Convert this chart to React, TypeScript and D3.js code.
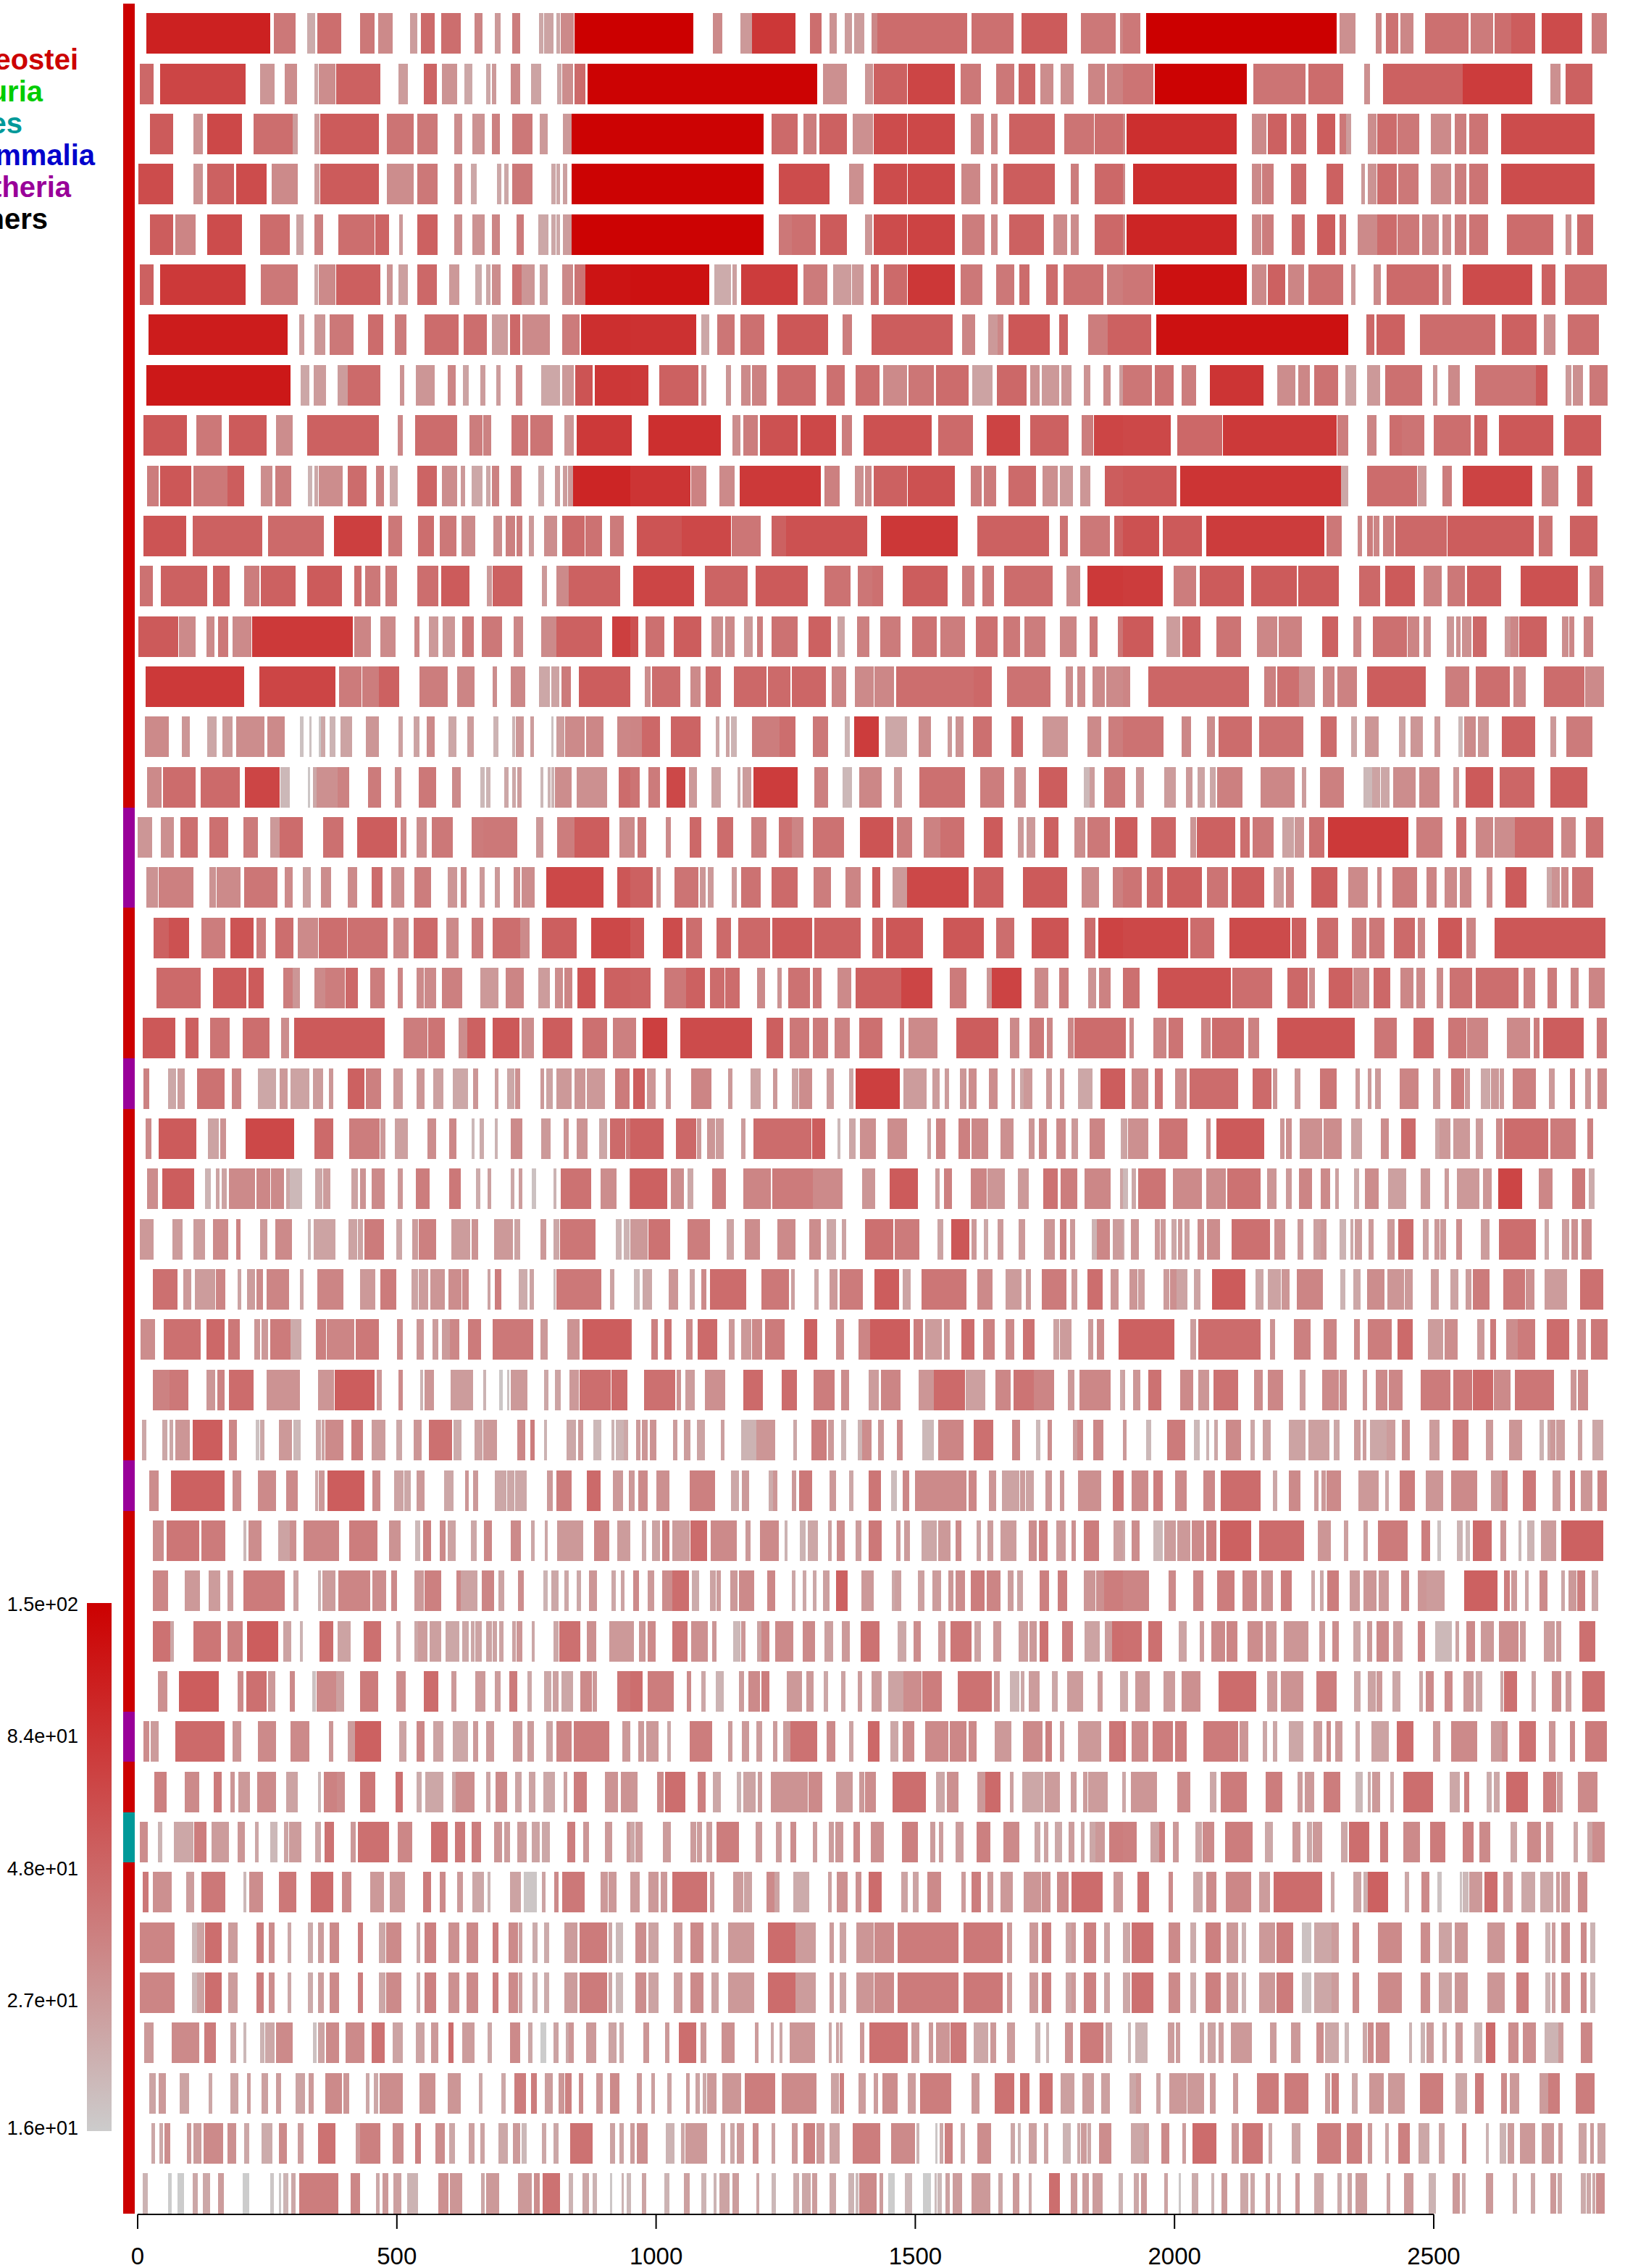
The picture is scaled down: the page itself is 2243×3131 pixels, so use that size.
import React from "react";
import * as d3 from "d3";

// Each row: three position bands, flat triples of start, end, value (start/end in band readings).
const r00 = [[28,422,105,434,503,40,540,565,23,572,648,45,708,754,40,766,812,33,867,890,27,902,945,47,966,1028,45,1072,1098,35,1137,1155,28,1192,1218,38,1277,1291,24,1294,1324,25,1333,1345,24,1347,1388,33,1390,1568,150],
[0,201,150,263,293,33,350,387,28,387,526,82,572,609,45,634,657,30,683,706,27,713,745,27,768,786,34,786,1072,46,1086,1220,44,1245,1390,55,1434,1545,40,1559,1568,35],
[0,55,40,74,680,150,689,740,31,805,823,34,837,876,43,883,925,34,962,1100,44,1107,1178,39,1183,1236,45,1236,1312,54,1333,1462,66,1492,1540,38]];
const r01 = [[7,51,48,71,344,70,390,436,29,468,507,32,563,574,24,576,630,32,632,772,52,830,860,27,911,952,50,968,1017,30,1040,1065,24,1109,1123,24,1128,1141,28,1188,1218,33,1252,1284,25,1335,1349,24,1351,1385,32,1390,1425,47,1432,1568,145],
[0,595,145,613,689,31,747,772,29,775,881,52,883,1033,70,1051,1116,40,1164,1222,40,1236,1289,50,1305,1347,32,1370,1411,31,1457,1510,35,1517,1568,36],
[0,97,42,101,394,145,415,581,42,590,701,46,768,786,31,828,1081,52,1081,1303,78,1360,1393,31,1409,1494,52]];
const r02 = [[39,113,55,178,208,30,221,332,68,369,493,45,493,510,27,563,579,27,581,768,55,793,879,42,890,955,40,1008,1033,32,1065,1105,30,1128,1153,37,1192,1257,40,1280,1305,28,1354,1381,28,1381,1568,145],
[0,424,145,450,533,47,551,593,38,602,689,52,708,772,31,775,881,65,883,1033,68,1084,1125,35,1148,1169,34,1206,1351,52,1381,1476,42,1478,1568,45],
[0,7,34,12,362,90,410,457,33,461,521,52,535,583,47,618,676,54,689,710,40,710,726,27,779,807,32,809,872,46,874,943,40,980,1045,33,1056,1093,38,1102,1162,42,1204,1501,65]];
const r03 = [[2,113,65,178,208,30,221,307,52,314,410,65,427,510,33,563,579,27,581,768,55,793,879,32,890,955,40,1008,1033,32,1061,1079,24,1144,1158,24,1167,1181,24,1192,1257,40,1317,1331,24,1333,1345,24,1354,1367,26,1381,1568,145],
[0,424,145,473,634,65,696,742,31,775,881,65,883,1033,68,1054,1114,34,1148,1169,34,1188,1351,54,1402,1427,38,1478,1568,48],
[0,7,34,32,362,90,410,440,33,443,480,38,535,583,47,648,701,52,759,770,28,779,807,30,809,872,46,876,941,40,980,1045,33,1056,1093,38,1102,1162,42,1204,1501,65]];
const r04 = [[39,113,54,120,184,35,221,332,65,390,484,46,505,528,25,563,590,37,639,754,45,756,800,50,832,844,28,890,955,52,1008,1033,32,1065,1105,30,1128,1153,35,1206,1229,39,1275,1307,24,1317,1331,24,1333,1345,24,1354,1381,27,1381,1568,145],
[0,424,145,473,514,40,514,590,44,604,689,55,747,770,29,775,881,65,883,1033,72,1056,1128,38,1148,1169,34,1206,1317,52,1347,1390,33,1402,1427,32,1478,1568,48],
[0,7,34,12,362,100,410,440,33,443,480,38,537,579,47,618,676,54,689,710,45,747,809,33,809,872,46,874,943,40,952,1005,34,1017,1045,33,1056,1093,38,1102,1162,42,1222,1370,46,1409,1427,32,1446,1497,47]];
const r05 = [[7,51,52,71,344,80,392,510,40,563,574,24,576,630,33,632,772,53,793,812,30,830,860,26,890,952,48,992,1024,28,1075,1095,23,1109,1123,24,1128,1155,32,1192,1222,43,1222,1264,29,1280,1305,27,1351,1385,33,1390,1425,42,1425,1568,120],
[0,251,125,267,321,23,325,339,26,353,533,78,551,627,39,646,703,27,706,742,28,766,791,43,807,881,47,883,1033,82,1051,1121,40,1164,1222,40,1238,1271,46,1324,1360,46,1379,1506,44,1517,1568,38],
[0,97,41,101,394,125,410,457,33,461,517,52,526,576,35,590,701,44,726,740,28,798,821,33,839,1005,47,1017,1045,34,1081,1303,66,1333,1377,52,1407,1540,47]];
const r06 = [[35,477,110,514,530,28,563,597,29,611,687,40,733,782,46,819,855,39,913,1022,46,1038,1111,45,1128,1178,27,1185,1218,48,1224,1312,33,1351,1407,39,1411,1568,90],
[0,210,88,226,251,24,277,332,41,350,427,44,468,630,58,676,706,38,768,1026,54,1056,1098,35,1139,1169,28,1169,1188,34,1204,1335,58,1365,1393,52,1457,1520,38,1520,1568,52],
[0,90,52,106,717,125,775,800,48,807,897,52,945,1185,46,1206,1317,52,1340,1377,32,1416,1515,45]];
const r07 = [[28,487,115,519,546,24,560,600,27,636,669,27,669,772,47,835,849,30,885,945,29,987,1012,35,1035,1054,25,1091,1107,27,1141,1155,27,1204,1224,34,1284,1344,24,1351,1388,28,1393,1448,60,1455,1568,82],
[0,58,80,92,217,52,226,242,29,304,321,29,353,383,33,387,434,36,468,590,47,625,683,44,717,793,45,805,881,33,885,966,41,973,1077,46,1088,1153,25,1167,1261,48,1273,1303,30,1310,1365,28,1372,1404,29,1443,1464,30,1506,1529,33,1556,1568,27],
[0,92,41,101,161,43,187,233,38,277,447,85,491,549,32,558,595,34,609,685,43,708,742,25,777,819,28,835,952,44,987,1001,29,1035,1072,33,1121,1314,42,1314,1351,58,1409,1427,28,1432,1464,31,1485,1543,40]];
const r08 = [[18,157,58,187,267,40,291,410,55,440,493,32,540,768,52,828,844,34,883,1017,46,1056,1098,38,1100,1125,36,1190,1243,42,1250,1321,42,1358,1388,29,1397,1568,80],
[0,5,85,58,288,90,325,350,32,360,406,38,413,533,62,542,655,68,673,706,38,742,959,62,980,1091,47,1134,1241,72,1273,1395,52,1437,1473,38,1476,1568,70],
[0,152,68,173,316,48,318,680,80,683,717,38,777,807,35,849,888,45,888,959,42,989,1107,45,1118,1160,52,1197,1370,57,1404,1522,56]];
const r09 = [[30,67,38,71,171,58,178,286,40,286,339,54,392,429,32,438,489,38,542,556,21,563,574,24,576,653,32,669,729,46,759,784,37,802,828,24,890,952,50,968,1017,32,1028,1042,28,1063,1098,24,1109,1123,24,1128,1151,36,1188,1222,38,1275,1294,24,1328,1344,27,1354,1367,27,1370,1386,28,1386,1568,100],
[0,191,85,194,242,36,284,332,33,348,606,80,618,666,37,715,742,31,747,768,33,775,881,52,883,1033,62,1084,1118,38,1125,1164,39,1204,1291,47,1312,1360,31,1367,1409,28,1432,1464,29,1510,1568,54],
[0,171,57,182,694,85,694,717,24,777,936,46,938,966,28,1017,1047,38,1081,1303,72,1333,1386,36,1446,1494,52]];
const r10 = [[18,154,60,175,397,52,415,593,47,625,777,75,798,842,40,892,943,45,962,1015,40,1031,1075,33,1132,1160,32,1171,1201,37,1206,1224,38,1245,1261,28,1294,1335,32,1351,1423,47,1425,1478,43,1503,1547,39],
[21,164,60,164,321,68,323,415,41,450,496,52,496,754,62,798,1042,82,1105,1333,52,1367,1393,43,1432,1526,40,1540,1568,52],
[0,115,62,127,251,56,265,641,78,648,696,40,747,761,33,777,796,38,798,816,35,828,862,38,867,1031,48,1033,1307,54,1324,1367,43,1423,1510,52]];
const r11 = [[7,48,43,74,221,52,240,293,52,339,387,38,392,503,52,540,650,55,689,713,45,724,772,40,789,826,39,890,957,45,966,1056,55,1111,1128,28,1130,1224,52,1287,1303,28,1333,1372,33,1372,1536,52],
[9,203,70,238,374,50,399,565,56,618,701,43,724,770,41,770,805,44,867,1010,54,1056,1095,38,1121,1158,40,1190,1344,46,1388,1432,32,1455,1568,80],
[0,127,78,161,233,38,244,385,55,408,553,55,558,687,56,752,819,48,835,929,56,957,1015,36,1033,1088,40,1095,1204,54,1266,1448,62,1485,1529,41]];
const r12 = [[2,129,56,131,184,33,219,244,33,256,288,40,302,362,33,364,685,80,689,742,35,772,821,33,881,897,34,927,957,28,971,1010,29,1033,1070,40,1095,1160,40,1197,1227,34,1284,1333,33,1333,1478,52,1510,1568,75],
[0,25,62,48,108,44,138,226,54,258,295,32,302,332,33,362,390,28,404,422,38,450,533,43,567,639,52,659,683,25,722,761,37,796,860,39,897,975,43,987,1065,38,1100,1169,44,1188,1241,40,1254,1321,38,1367,1420,35,1462,1487,40,1552,1568,42],
[0,97,56,138,182,27,189,247,52,297,376,42,427,491,34,496,570,36,634,685,52,733,759,34,796,904,44,906,943,35,957,980,32,1031,1054,29,1061,1075,31,1079,1109,31,1114,1158,48,1215,1234,29,1234,1259,34,1261,1349,52,1397,1418,32,1420,1437,34,1467,1497,35]];
const r13 = [[25,339,80,387,630,70,641,713,39,715,768,38,768,832,52,897,987,38,1017,1072,35,1130,1144,32,1188,1234,34,1277,1312,24,1317,1342,25,1349,1379,39,1404,1568,54],
[46,65,32,69,159,46,191,224,33,240,288,46,330,434,48,438,510,47,514,623,49,641,687,35,715,775,33,777,839,34,846,1093,45,1093,1151,48,1199,1337,43,1386,1409,32,1423,1448,33,1471,1510,33,1515,1568,33],
[0,23,35,81,401,49,450,487,37,491,560,44,560,611,31,636,673,35,683,745,36,777,964,54,1026,1102,38,1123,1231,45,1243,1282,34,1340,1469,46,1471,1531,33]];
const r14 = [[23,99,33,141,166,29,221,251,24,270,302,27,314,404,32,413,468,33,517,528,18,546,553,18,576,583,17,583,597,24,611,630,21,646,683,25,726,768,29,830,844,26,879,897,25,920,945,33,989,1015,24,1049,1070,27,1132,1148,21,1192,1201,21,1204,1229,29,1250,1261,27,1317,1324,18,1333,1358,27,1360,1423,33,1427,1483,34,1526,1568,34],
[0,37,35,37,95,48,129,224,50,272,284,24,304,316,25,321,339,21,387,475,38,475,526,45,581,630,40,683,699,21,713,791,78,812,881,24,918,957,32,1010,1024,28,1035,1061,30,1091,1151,44,1213,1250,48,1312,1393,29,1455,1499,33,1522,1568,38],
[0,129,43,187,217,34,267,293,32,304,410,46,434,574,44,630,680,46,726,745,24,770,814,29,879,899,25,915,955,29,992,1010,28,1068,1081,20,1086,1123,33,1130,1164,29,1206,1312,52,1360,1379,28,1411,1494,39]];
const r15 = [[30,76,33,81,184,46,201,325,47,341,452,70,454,484,20,542,549,17,558,570,24,570,636,31,636,673,36,733,775,39,819,839,32,895,950,40,1001,1028,33,1091,1105,20,1109,1123,21,1167,1181,24,1192,1204,24,1208,1222,27,1282,1291,20,1305,1315,21,1317,1326,21,1328,1381,32,1397,1494,31,1531,1568,46],
[0,30,42,58,95,39,115,175,68,187,212,28,258,288,25,341,350,24,357,385,27,392,533,78,586,630,37,676,706,20,729,800,34,839,865,27,920,1065,44,1114,1190,38,1222,1259,32,1301,1390,54,1443,1462,20,1462,1478,27,1508,1568,40],
[0,7,40,42,67,29,131,168,27,201,221,28,238,261,25,277,295,24,300,380,37,438,546,34,570,583,27,627,703,37,766,793,20,793,819,25,821,849,24,860,932,32,943,1008,34,1051,1070,29,1091,1178,56,1199,1310,49,1360,1478,54]];
const r16 = [[0,46,29,74,115,31,136,191,44,228,288,44,337,383,39,422,452,28,452,526,46,590,655,44,699,826,54,837,855,35,888,920,32,936,1003,40,1063,1100,39,1100,1208,40,1268,1291,28,1335,1390,38,1390,1501,54,1533,1568,33],
[0,14,33,23,51,40,113,129,33,189,226,48,277,327,46,385,434,37,473,514,43,514,551,35,581,680,43,731,837,60,849,897,38,934,987,36,987,1063,44,1125,1185,55,1234,1252,28,1261,1289,28,1317,1363,52,1414,1448,32,1455,1526,40,1543,1568,54],
[0,46,54,90,168,49,214,233,29,235,357,52,374,404,45,413,480,40,507,544,25,546,576,29,593,641,44,653,909,80,934,1017,38,1061,1093,46,1123,1178,34,1183,1247,32,1247,1370,47,1395,1441,34,1473,1529,43]];
const r17 = [[28,65,30,67,178,37,228,249,30,251,327,33,339,445,41,468,493,33,526,551,26,583,616,32,669,699,33,745,779,46,807,849,32,881,934,38,987,1017,29,1028,1047,33,1088,1105,28,1137,1153,28,1197,1218,33,1222,1264,32,1301,1483,68,1526,1568,58],
[0,71,52,83,97,29,141,217,42,221,240,29,247,265,28,323,339,28,353,415,43,450,533,47,583,639,38,685,733,35,770,796,54,835,881,28,881,1077,68,1093,1188,53,1250,1390,56,1437,1492,33,1536,1568,37],
[0,60,42,76,127,46,141,251,53,267,334,42,346,450,54,480,512,27,519,544,34,600,683,54,717,779,33,809,823,33,858,936,39,966,998,35,1024,1063,33,1072,1109,34,1158,1176,33,1218,1284,55,1349,1365,24,1365,1390,30,1395,1418,34,1430,1497,43]];
const r18 = [[51,99,52,99,164,62,203,279,38,295,369,60,378,408,38,438,496,45,510,574,33,576,666,45,669,796,44,814,862,34,879,955,47,982,1022,33,1063,1100,39,1130,1218,45,1218,1247,33,1287,1397,53,1443,1568,68],
[0,44,58,104,166,65,178,228,45,274,321,47,344,445,48,452,579,56,586,733,52,770,805,50,814,932,58,996,1125,58,1164,1222,45,1277,1395,60,1446,1480,46,1490,1568,72],
[0,208,68,214,291,46,339,533,66,537,583,53,618,685,46,729,775,38,784,832,40,862,929,47,938,962,35,1003,1079,57,1093,1123,35,1183,1536,58]];
const r19 = [[60,201,47,240,346,55,353,401,55,463,493,38,493,517,29,563,597,33,597,659,38,662,701,48,740,786,38,828,844,35,888,911,33,913,950,33,968,1033,37,1091,1148,28,1171,1229,35,1275,1312,27,1328,1354,32,1358,1384,35,1400,1457,60,1485,1568,52],
[0,65,50,108,178,40,178,238,52,254,300,46,302,348,46,404,429,33,468,482,30,503,572,43,581,609,40,659,703,33,717,862,52,862,962,70,1017,1070,39,1134,1151,29,1151,1245,72,1287,1330,33,1365,1395,38,1457,1483,30,1492,1529,36],
[0,53,44,111,344,62,348,475,45,523,588,48,593,611,32,655,731,52,733,784,33,798,851,48,883,925,34,934,962,33,998,1019,33,1040,1111,43,1123,1259,45,1275,1312,37,1351,1381,39,1425,1450,34,1483,1533,35]];
const r20 = [[16,120,57,152,194,52,231,293,42,334,420,45,457,482,32,498,786,56,846,922,38,925,978,42,1022,1049,32,1049,1107,52,1130,1215,57,1222,1261,32,1289,1384,54,1416,1494,44,1513,1568,37],
[0,18,37,39,118,75,159,387,66,434,487,53,507,570,40,581,630,39,650,699,36,729,802,44,858,872,34,885,978,33,1038,1171,54,1208,1238,33,1271,1317,40,1326,1344,34,1393,1411,34,1414,1568,46],
[0,9,46,21,35,33,97,138,35,145,191,42,249,279,35,284,385,46,399,434,36,491,738,60,800,872,41,925,989,47,1035,1093,41,1095,1162,35,1222,1296,33,1307,1326,38,1337,1467,54,1508,1540,40]];
const r21 = [[18,37,36,97,122,24,127,150,27,189,277,43,300,330,35,383,440,24,452,477,28,487,546,25,558,590,27,609,623,29,669,722,52,726,775,37,814,844,28,888,913,29,941,973,26,1003,1051,24,1068,1084,29,1137,1148,26,1176,1199,24,1201,1218,31,1282,1294,28,1301,1321,25,1333,1381,28,1390,1425,29,1430,1487,28,1520,1566,39],
[9,46,54,53,81,29,113,129,29,194,258,35,311,325,28,383,415,25,454,468,28,514,535,25,537,579,32,625,648,28,696,710,24,717,858,75,869,943,27,962,985,27,1001,1015,27,1049,1070,29,1077,1102,32,1141,1169,32,1213,1224,28,1241,1252,24,1252,1280,28,1324,1342,28,1367,1381,29,1425,1471,24,1497,1568,54],
[0,7,55,28,81,34,101,127,43,166,203,33,212,367,46,413,473,47,477,491,29,546,565,29,627,680,41,740,754,28,779,791,28,802,821,28,881,941,35,987,1010,28,1045,1086,39,1088,1105,28,1139,1169,24,1171,1197,28,1199,1213,28,1241,1314,37,1356,1374,28,1423,1439,37,1471,1490,29,1510,1540,34]];
const r22 = [[25,44,33,67,187,55,224,258,25,263,281,30,344,498,68,563,623,47,673,770,38,772,789,28,819,860,26,922,950,32,992,1015,34,1063,1072,20,1088,1102,23,1137,1146,21,1188,1224,33,1284,1314,28,1356,1372,30,1397,1432,30,1469,1494,24,1503,1552,47,1554,1568,40],
[0,106,52,145,210,48,212,226,28,244,270,29,272,297,27,353,367,27,392,576,46,579,620,54,659,669,20,696,717,24,731,782,31,819,881,32,945,957,25,973,1003,35,1045,1081,37,1086,1139,34,1178,1220,31,1268,1287,29,1301,1326,34,1356,1386,33,1404,1425,28,1462,1510,35,1561,1568,24],
[0,14,25,16,81,31,115,205,42,265,279,34,297,450,56,500,514,29,519,537,31,563,634,31,639,696,32,726,761,25,821,846,32,885,932,47,994,1008,24,1008,1042,28,1051,1105,28,1123,1146,27,1188,1208,33,1213,1354,46,1360,1441,39,1478,1497,37]];
const r23 = [[30,65,32,78,180,54,214,233,21,249,261,25,267,284,25,291,374,33,378,422,34,424,466,33,473,484,24,484,523,20,565,588,24,590,613,27,680,701,25,708,726,30,745,786,33,828,844,29,885,929,38,992,1028,40,1077,1091,23,1114,1125,26,1188,1199,24,1213,1224,27,1254,1268,18,1324,1333,21,1347,1443,43,1473,1524,32,1566,1568,33],
[0,118,52,129,171,32,182,201,24,261,304,38,360,447,35,452,581,39,581,676,33,738,779,29,826,915,55,971,985,27,998,1024,37,1084,1134,35,1137,1192,29,1234,1268,28,1314,1360,43,1370,1423,38,1446,1529,34,1559,1568,25],
[0,16,20,28,42,24,48,136,42,159,251,33,265,327,32,332,438,43,459,489,29,519,537,28,560,602,35,630,659,33,676,687,26,736,752,23,770,814,32,844,902,26,948,978,28,1024,1038,27,1063,1134,28,1146,1174,29,1194,1271,70,1324,1367,34,1430,1471,40,1483,1501,23]];
const r24 = [[7,51,28,111,143,27,178,214,27,240,288,33,314,327,36,390,413,28,438,491,33,542,551,20,560,630,25,671,699,25,701,717,25,722,784,39,823,842,24,874,892,27,895,950,37,998,1058,27,1063,1084,30,1134,1194,28,1199,1218,25,1282,1301,28,1324,1342,24,1344,1457,41,1522,1540,21,1547,1566,21],
[0,55,28,58,127,43,182,254,38,307,330,25,364,413,32,468,526,33,570,606,32,625,655,24,673,687,25,747,837,44,842,920,39,978,996,25,1022,1079,58,1086,1102,28,1125,1139,24,1169,1188,28,1236,1257,28,1317,1351,29,1367,1388,37,1400,1416,28,1469,1485,21,1485,1526,34,1536,1568,27],
[0,5,23,25,51,29,101,118,28,120,136,28,154,171,24,175,189,28,196,212,26,238,258,32,267,309,32,346,468,44,482,517,31,556,574,28,606,630,26,630,648,29,689,710,21,724,733,24,738,761,27,782,798,28,842,865,28,876,925,46,955,973,26,992,1008,28,1010,1028,28,1061,1079,32,1139,1167,27,1197,1314,45,1342,1356,24,1397,1420,27,1427,1448,31,1460,1492,33]];
const r25 = [[48,127,44,145,171,28,182,247,27,249,279,35,318,330,25,348,374,27,378,399,33,410,482,35,517,528,25,572,655,35,708,756,28,772,823,39,872,892,25,895,925,27,932,978,29,989,1031,32,1033,1054,33,1114,1123,25,1137,1158,38,1213,1241,23,1247,1261,25,1324,1331,19,1333,1476,40,1503,1517,25],
[12,30,20,39,69,24,122,152,29,189,205,25,226,242,33,254,369,46,417,505,40,512,523,26,586,600,24,634,659,28,666,740,39,777,855,54,867,892,25,927,1070,41,1105,1153,33,1194,1245,27,1259,1275,28,1310,1388,39,1404,1423,28,1455,1503,45,1529,1554,29],
[21,46,29,48,69,27,129,148,27,150,171,31,171,205,25,226,247,25,284,390,55,422,447,24,461,503,25,505,530,29,553,636,35,692,708,21,733,756,24,777,832,32,842,895,29,897,922,28,980,1005,27,1042,1068,25,1091,1109,27,1114,1167,39,1211,1280,40,1282,1310,31,1342,1414,27,1455,1529,44]];
const r26 = [[9,55,32,83,201,44,219,277,48,288,325,40,371,390,29,394,415,28,422,487,39,487,521,23,567,600,37,602,689,35,694,768,40,826,844,33,888,911,29,938,957,27,968,994,27,994,1024,34,1051,1093,39,1130,1259,40,1282,1305,28,1367,1407,30,1416,1568,54],
[0,5,48,67,88,37,108,131,42,178,198,33,214,277,47,314,332,28,353,385,28,387,420,33,429,491,39,553,595,52,655,680,33,726,763,35,763,890,54,902,932,38,938,992,27,998,1017,29,1054,1095,46,1123,1160,36,1194,1222,33,1250,1287,43,1347,1365,25,1367,1404,27,1457,1473,28,1485,1508,33,1554,1568,52],
[0,164,52,214,233,27,240,438,46,468,484,30,544,597,37,639,680,35,736,754,33,779,855,38,874,922,47,971,1019,27,1024,1065,32,1128,1151,28,1169,1188,39,1220,1257,32,1257,1312,39,1349,1420,46,1446,1473,33,1490,1543,40]];
const r27 = [[48,101,36,101,161,40,219,247,29,254,277,36,291,369,46,410,517,30,574,625,29,627,754,54,761,777,29,830,844,33,899,909,21,913,943,29,996,1068,27,1100,1109,21,1151,1162,17,1176,1183,18,1188,1241,28,1294,1307,24,1328,1347,25,1374,1404,28,1407,1506,45,1508,1559,47],
[44,143,44,148,161,30,175,205,27,238,302,31,360,422,47,482,530,46,583,650,38,671,696,32,759,791,27,798,860,35,918,966,29,966,1065,47,1068,1130,26,1162,1211,34,1220,1284,42,1284,1349,35,1393,1414,28,1430,1529,34,1559,1568,24],
[0,7,26,32,55,29,81,122,43,182,224,33,240,274,29,288,367,43,417,445,32,461,510,34,563,581,27,634,687,33,689,713,32,763,777,29,805,842,33,846,890,34,948,1042,39,1051,1111,40,1114,1178,47,1181,1234,33,1247,1372,41,1425,1444,29,1448,1480,33]];
const r28 = [[14,28,24,78,95,24,101,113,24,120,166,29,175,270,54,291,316,34,376,387,18,390,404,24,450,491,28,496,519,20,567,583,24,586,595,25,597,655,33,680,717,38,745,789,27,823,842,24,879,904,29,927,1001,44,1005,1031,23,1072,1098,25,1100,1144,28,1208,1234,34,1250,1264,38,1294,1303,21,1365,1395,24,1402,1418,28,1450,1476,20,1508,1517,21,1522,1547,21,1547,1561,24],
[18,32,28,37,55,29,62,83,30,136,150,27,171,191,27,212,238,25,288,300,26,353,401,21,401,461,29,519,530,24,576,625,38,630,648,28,671,687,21,724,738,21,738,768,32,789,807,29,849,867,33,929,966,20,980,1061,35,1093,1155,44,1215,1241,34,1291,1305,20,1328,1342,32,1409,1423,27,1423,1441,34,1473,1506,34],
[0,12,28,74,90,20,141,198,39,226,244,20,265,274,21,291,302,24,327,376,33,406,420,24,445,470,26,528,581,25,590,657,26,671,689,24,736,756,27,763,775,27,786,839,24,839,867,27,888,913,32,975,1008,27,1049,1100,38,1155,1178,28,1229,1271,29,1326,1340,21,1351,1360,24,1360,1377,28,1379,1407,27,1448,1462,26,1494,1529,24]];
const r29 = [[37,67,32,106,277,52,302,330,32,383,440,33,473,510,33,565,574,24,576,595,28,604,722,54,747,772,33,816,846,25,849,869,24,888,913,28,975,1005,24,1042,1054,29,1068,1084,28,1137,1174,24,1176,1199,24,1201,1238,24,1303,1321,28,1333,1381,38,1430,1473,47,1513,1545,28,1564,1568,30],
[0,14,28,25,55,33,83,125,31,189,270,37,321,346,24,355,378,28,440,454,23,454,468,29,514,528,28,537,579,40,634,655,28,696,710,24,759,798,41,830,849,19,867,888,34,906,1070,33,1077,1102,34,1141,1164,29,1183,1238,25,1241,1257,27,1259,1284,25,1321,1342,29,1367,1381,29,1425,1499,31,1536,1568,41],
[0,2,40,28,81,33,97,127,38,166,203,33,256,293,34,311,438,46,477,491,24,528,565,33,609,623,27,632,646,28,648,694,33,749,814,28,835,846,24,881,929,38,964,1019,29,1045,1128,33,1171,1206,28,1206,1224,38,1273,1314,40,1367,1393,28,1423,1439,39,1457,1494,29,1510,1540,35]];
const r30 = [[48,83,32,92,196,41,203,279,39,337,346,20,353,394,32,447,484,25,484,505,31,528,641,35,673,763,38,800,837,30,883,899,20,909,934,37,962,980,33,987,1012,25,1061,1079,24,1102,1128,34,1188,1220,33,1252,1264,24,1296,1305,24,1335,1418,28,1453,1501,34,1526,1568,27],
[37,51,24,69,95,25,101,125,38,134,189,27,191,244,46,256,339,33,367,383,28,413,473,33,491,500,21,540,558,21,565,597,24,630,641,26,657,683,33,717,736,27,759,800,40,846,860,28,872,890,27,927,975,24,980,1019,28,1035,1054,33,1102,1116,26,1137,1155,27,1178,1229,27,1268,1294,32,1301,1328,37,1356,1386,28,1404,1418,31,1443,1492,38,1538,1568,26],
[0,7,24,28,53,32,97,127,20,131,168,27,173,214,28,219,258,33,265,297,38,309,408,52,434,576,46,620,662,29,703,717,26,766,779,26,812,906,39,950,978,38,1001,1012,18,1063,1081,21,1091,1105,20,1114,1174,47,1201,1220,29,1259,1268,20,1287,1310,21,1330,1379,27,1395,1529,52]];
const r31 = [[48,97,34,150,198,28,226,263,27,286,304,28,337,468,39,496,512,25,574,583,21,588,630,27,639,740,35,747,791,32,807,826,33,881,911,28,913,966,37,1015,1028,34,1028,1081,25,1095,1134,35,1148,1167,25,1211,1229,32,1291,1305,21,1317,1340,24,1358,1372,24,1397,1411,24,1437,1462,29,1508,1522,24,1538,1550,25],
[9,28,33,55,76,28,101,134,32,134,187,45,196,219,23,254,272,25,274,288,27,318,341,28,346,394,33,436,461,34,514,526,24,549,560,24,581,593,24,613,634,26,655,692,52,736,775,28,832,841,24,841,862,26,915,936,26,962,989,27,1012,1028,29,1035,1065,32,1084,1128,38,1134,1178,35,1201,1220,27,1231,1250,25,1303,1333,37,1360,1390,38,1443,1480,29,1483,1508,31,1508,1568,38],
[0,83,35,145,168,33,224,256,34,300,355,38,380,427,34,440,477,31,503,537,38,600,611,24,627,639,24,650,687,38,722,754,27,766,807,29,814,846,28,885,911,33,938,966,29,966,1024,27,1086,1192,52,1213,1231,38,1236,1254,28,1280,1291,24,1326,1351,33,1395,1407,24,1418,1444,28,1446,1471,38,1492,1513,24]];
const r32 = [[48,104,43,104,115,24,178,265,41,286,334,37,348,447,54,463,489,25,517,526,21,579,623,45,636,678,25,719,775,44,823,837,25,881,892,24,892,922,27,929,966,26,980,1024,24,1033,1054,24,1061,1072,24,1075,1095,25,1109,1128,25,1130,1144,25,1151,1164,25,1192,1204,25,1206,1224,29,1254,1264,24,1324,1340,24,1342,1409,44,1430,1460,31,1501,1568,28],
[0,12,28,28,48,29,55,81,33,134,182,41,194,247,31,261,274,29,327,351,20,353,367,29,404,417,25,417,443,34,461,519,33,549,588,33,618,646,26,673,699,28,733,793,43,851,879,24,902,925,32,980,1003,29,1019,1086,41,1095,1116,25,1155,1181,28,1236,1266,27,1271,1294,28,1303,1330,43,1374,1409,38,1446,1494,25,1510,1533,27,1533,1568,45],
[0,60,44,81,125,44,178,203,25,244,258,28,281,325,33,330,364,35,397,445,32,454,489,29,512,590,29,625,643,28,666,687,32,733,756,24,777,793,28,807,846,33,860,890,27,938,962,35,994,1047,20,1058,1070,25,1093,1121,33,1139,1181,28,1197,1259,32,1264,1282,28,1340,1374,27,1379,1395,28,1453,1503,44]];
const r33 = [[65,95,31,131,258,54,318,337,33,346,410,44,415,438,28,484,500,33,556,567,18,570,632,33,632,657,26,708,766,39,823,853,32,911,957,46,998,1015,28,1075,1107,28,1137,1155,27,1183,1208,39,1241,1254,24,1294,1317,24,1321,1340,26,1349,1386,24,1409,1446,33,1448,1462,28,1526,1568,41],
[0,39,45,55,138,38,180,194,33,226,240,24,272,297,21,346,362,27,376,413,33,417,443,38,498,546,28,560,583,28,616,630,24,671,685,25,724,738,27,768,800,27,821,869,25,869,927,32,929,992,38,1042,1151,43,1158,1176,29,1208,1238,21,1243,1254,24,1268,1303,27,1342,1360,24,1390,1441,27,1487,1503,28,1559,1568,24],
[0,16,24,39,85,28,129,166,27,187,247,31,304,424,46,459,491,28,503,574,30,616,680,38,736,756,24,779,805,25,807,826,28,858,883,24,943,955,24,964,989,33,1024,1049,33,1084,1116,28,1123,1144,24,1201,1211,24,1213,1254,44,1301,1314,25,1365,1395,32,1409,1427,27,1462,1533,44]];
const r34 = [[18,37,32,42,67,27,120,277,47,302,330,29,383,440,33,487,546,33,609,623,29,669,692,27,692,775,52,832,855,25,888,913,34,941,973,25,1003,1051,24,1068,1084,28,1109,1134,28,1194,1224,28,1241,1261,27,1301,1321,25,1333,1381,35,1388,1501,39,1543,1568,28],
[25,44,28,51,90,28,118,129,24,189,261,38,311,325,27,355,378,28,401,420,27,454,468,27,487,510,27,510,595,43,625,653,33,696,710,25,756,793,48,828,853,24,867,904,33,938,1012,33,1017,1070,34,1077,1102,33,1160,1213,28,1250,1312,33,1321,1342,37,1367,1381,27,1425,1499,28,1524,1568,41],
[0,9,45,28,81,33,95,159,38,166,203,38,256,367,39,371,399,29,445,459,24,477,491,24,528,574,24,606,634,27,648,662,33,676,699,28,740,754,24,791,846,25,872,925,46,987,1010,28,1045,1128,33,1171,1206,27,1206,1224,33,1261,1314,43,1356,1377,29,1423,1439,33,1471,1540,39]];
const r35 = [[53,92,37,150,196,33,242,267,39,295,309,29,321,357,28,380,440,33,473,510,25,574,583,20,593,634,36,634,659,33,708,756,41,821,844,44,888,904,23,915,973,24,1001,1012,24,1012,1072,32,1109,1123,25,1139,1176,33,1201,1222,25,1245,1266,25,1291,1328,24,1356,1367,26,1388,1430,38,1487,1529,30,1538,1568,30],
[0,23,29,85,106,33,111,175,45,214,240,37,263,288,24,339,353,21,360,399,25,406,420,27,447,565,30,567,611,33,655,708,28,729,745,28,747,782,32,835,941,45,973,1001,24,1008,1045,31,1105,1130,28,1130,1178,47,1208,1220,26,1247,1314,24,1319,1367,27,1402,1420,27,1441,1455,27,1457,1520,27,1566,1568,24],
[0,9,24,25,108,29,173,214,33,277,297,24,311,394,39,454,507,38,556,572,27,579,609,28,639,692,38,740,763,20,779,789,24,793,819,28,851,862,24,892,987,45,1040,1072,24,1086,1102,37,1158,1174,23,1181,1199,24,1220,1289,47,1337,1379,38,1381,1400,28,1448,1510,33]];
const r36 = [[7,32,32,65,78,21,115,178,24,180,219,38,235,291,27,318,341,29,374,385,24,422,445,20,466,480,25,482,521,27,565,583,24,595,625,43,678,694,28,701,800,44,828,874,34,934,987,44,1010,1042,40,1063,1093,38,1134,1160,29,1167,1185,27,1208,1238,27,1254,1280,25,1287,1312,24,1367,1393,38,1418,1437,29,1487,1510,28,1556,1568,28],
[0,14,24,16,39,27,104,129,27,191,210,27,212,228,27,242,261,27,274,346,38,399,420,28,463,482,27,510,528,32,581,595,27,632,648,27,653,678,29,710,731,33,766,807,31,865,915,37,955,971,27,982,996,27,1035,1061,27,1102,1146,37,1188,1238,33,1287,1305,24,1317,1330,25,1351,1374,24,1395,1414,27,1434,1446,24,1462,1480,24,1480,1510,28,1524,1568,38],
[0,44,37,88,115,25,115,134,38,159,178,28,231,251,24,254,291,33,325,413,38,452,477,24,540,565,28,586,602,24,604,634,28,694,715,24,719,784,45,819,844,39,892,945,33,978,1026,39,1081,1116,37,1134,1169,33,1234,1254,24,1287,1330,33,1347,1370,29,1434,1448,24,1478,1494,25,1494,1533,32]];
const r37 = [[16,35,40,48,108,31,154,180,27,203,279,40,337,346,20,355,399,32,450,505,40,551,623,46,650,680,33,740,785,28,802,851,28,909,934,39,962,980,33,1017,1035,28,1065,1102,24,1114,1123,21,1185,1220,25,1229,1271,17,1287,1298,25,1326,1340,33,1351,1423,40,1473,1497,28,1499,1524,28],
[0,30,27,58,90,28,97,118,28,134,244,43,254,267,28,327,360,27,362,387,25,434,459,33,459,475,25,519,570,23,630,641,26,657,692,31,717,736,31,759,800,46,862,883,25,899,918,25,945,989,33,1054,1068,27,1086,1116,38,1137,1155,28,1178,1218,28,1252,1307,29,1310,1337,31,1358,1395,33,1404,1503,46,1538,1568,28],
[46,83,44,145,159,33,224,254,24,265,297,33,327,408,34,434,468,27,480,634,46,662,673,24,733,759,25,766,779,22,779,844,52,897,911,24,950,975,33,1001,1015,18,1072,1079,18,1081,1100,20,1102,1144,28,1151,1192,46,1211,1241,28,1268,1312,24,1328,1370,24,1379,1390,27,1395,1423,28,1448,1478,33]];
const r38 = [[7,118,35,173,189,20,189,212,25,214,267,45,288,318,27,378,401,38,417,436,32,477,489,24,542,558,23,574,593,27,611,641,33,701,717,38,768,789,24,791,839,33,888,899,24,913,950,37,989,1024,31,1047,1084,33,1130,1148,38,1181,1211,33,1213,1224,26,1257,1273,23,1294,1310,23,1358,1400,27,1407,1494,39,1499,1510,24,1522,1545,20],
[16,51,32,58,90,25,138,166,27,191,233,33,258,281,25,311,394,28,438,526,46,526,590,27,634,648,27,666,687,25,719,775,29,777,839,33,851,1045,39,1061,1185,40,1199,1215,28,1271,1298,28,1310,1340,37,1386,1404,25,1404,1418,28,1443,1483,37,1508,1526,25],
[0,23,24,28,97,44,145,182,33,214,233,23,263,311,37,330,367,28,378,392,21,434,484,28,489,542,39,570,600,18,609,664,24,664,687,27,731,752,32,812,888,33,948,978,32,1005,1047,25,1056,1098,29,1160,1215,29,1252,1291,38,1344,1360,21,1365,1377,27,1395,1423,32,1457,1476,33,1487,1503,21]];
const r39 = [[7,118,35,173,189,20,189,212,25,214,267,45,288,318,27,378,401,38,417,436,32,477,489,24,542,558,23,574,593,27,611,641,33,701,717,38,768,789,24,791,839,33,888,899,24,913,950,37,989,1024,31,1047,1084,33,1130,1148,38,1181,1211,33,1213,1224,26,1257,1273,23,1294,1310,23,1358,1400,27,1407,1494,39,1499,1510,24,1522,1545,20],
[16,51,32,58,90,25,138,166,27,191,233,33,258,281,25,311,394,28,438,526,46,526,590,27,634,648,27,666,687,25,719,775,29,777,839,33,851,1045,39,1061,1185,40,1199,1215,28,1271,1298,28,1310,1340,37,1386,1404,25,1404,1418,28,1443,1483,37,1508,1526,25],
[0,23,24,28,97,44,145,182,33,214,233,23,263,311,37,330,367,28,378,392,21,434,484,28,489,542,39,570,600,18,609,664,24,664,687,27,731,752,32,812,888,33,948,978,32,1005,1047,25,1056,1098,29,1160,1215,29,1252,1291,38,1344,1360,21,1365,1377,27,1395,1423,32,1457,1476,33,1487,1503,21]];
const r40 = [[21,51,28,108,196,33,212,249,39,295,314,25,337,346,20,390,404,21,406,436,24,440,493,33,558,570,18,574,595,25,600,641,33,662,722,33,745,786,43,812,844,25,885,913,25,934,957,28,989,1005,46,1033,1072,27,1114,1128,24,1185,1218,33,1243,1257,24,1282,1301,16,1324,1340,25,1363,1372,24,1372,1388,29,1427,1460,28,1499,1524,25,1533,1547,24],
[42,60,29,111,125,28,154,210,45,224,242,28,291,332,31,397,408,27,447,457,24,475,484,24,507,588,29,632,641,24,655,664,25,666,676,25,731,745,28,761,883,44,895,920,28,950,964,28,973,1017,29,1019,1070,40,1093,1139,24,1146,1164,28,1199,1224,27,1289,1305,21,1324,1333,20,1384,1409,31,1432,1506,39,1513,1533,25],
[16,25,20,39,78,21,143,164,27,168,182,27,244,258,24,270,295,25,304,321,27,344,410,28,468,489,27,535,565,28,616,639,32,643,687,24,706,719,20,763,777,24,779,798,33,805,849,33,911,920,21,948,962,21,966,989,27,1017,1031,24,1058,1081,28,1118,1144,21,1155,1185,47,1227,1259,32,1273,1314,32,1342,1385,21,1385,1402,28,1457,1494,34]];
const r41 = [[37,58,25,67,90,28,134,164,25,226,238,24,295,321,25,348,360,27,394,415,26,440,457,27,503,533,25,544,560,28,597,650,33,655,673,29,726,738,24,752,766,24,770,844,32,897,948,31,987,1028,29,1086,1098,24,1158,1171,24,1199,1236,38,1252,1271,38,1296,1321,27,1340,1358,29,1360,1381,37,1404,1418,33,1460,1480,29,1503,1533,33],
[21,37,28,67,78,26,118,131,25,178,189,27,208,221,25,231,242,24,244,274,28,293,353,29,364,461,38,482,593,33,639,664,25,666,680,38,726,749,27,775,789,27,802,851,32,883,909,27,922,1022,38,1086,1111,28,1160,1222,43,1241,1271,43,1303,1344,43,1370,1414,26,1439,1476,27,1499,1526,26],
[21,42,24,42,58,28,106,120,25,148,203,28,205,258,28,277,295,28,350,367,27,427,496,39,514,590,39,643,659,27,664,687,38,729,747,24,784,830,29,844,897,28,945,1019,38,1058,1095,24,1121,1148,39,1204,1222,33,1231,1261,28,1326,1354,27,1354,1390,38,1441,1501,38]];
const r42 = [[44,55,24,69,81,24,85,104,32,157,171,28,178,203,27,210,272,33,286,314,31,339,355,24,394,429,23,450,475,33,510,528,27,574,630,43,694,708,28,708,772,37,812,846,32,883,902,37,948,978,32,992,1010,24,1054,1072,26,1091,1105,25,1148,1178,24,1194,1218,28,1222,1238,20,1287,1301,24,1324,1340,24,1377,1448,43,1503,1520,25,1533,1547,25],
[0,14,27,21,55,32,113,141,21,161,173,24,175,244,28,288,302,24,318,332,24,339,362,28,390,408,32,450,461,25,514,533,28,551,588,37,593,618,28,634,666,25,708,796,38,830,906,33,911,920,21,971,978,17,985,996,24,1001,1026,37,1051,1065,24,1105,1148,32,1211,1224,24,1234,1243,21,1268,1294,26,1317,1330,25,1377,1402,21,1423,1432,24,1434,1453,27,1455,1467,24,1492,1531,32],
[25,67,24,67,83,27,122,148,33,189,201,27,221,297,46,346,369,28,380,445,41,463,475,24,537,565,24,618,694,38,713,761,38,779,793,28,835,846,24,876,913,37,941,975,24,1005,1024,25,1079,1093,33,1155,1164,21,1199,1220,21,1224,1245,27,1264,1312,28,1333,1372,28,1386,1400,28,1450,1476,25,1487,1499,27,1510,1536,25]];
const r43 = [[16,32,21,97,108,16,127,148,16,175,191,24,208,231,24,256,274,27,334,355,16,422,434,17,450,457,17,463,480,21,489,503,24,514,639,38,678,708,34,759,771,24,779,798,28,814,839,26,858,892,21,957,989,31,994,1033,29,1093,1105,24,1109,1151,28,1211,1254,28,1261,1280,32,1289,1344,43,1372,1386,21,1416,1437,24,1448,1462,21,1503,1510,17,1540,1547,21,1556,1568,20],
[0,2,20,37,51,25,108,125,21,171,189,26,226,242,21,265,274,21,284,316,25,325,346,27,401,410,24,450,463,20,519,537,23,546,574,24,579,595,27,634,655,24,694,713,21,717,726,20,729,784,33,793,805,27,821,842,16,874,897,20,932,957,16,968,975,19,978,992,20,1003,1017,26,1026,1056,27,1086,1146,28,1171,1185,24,1218,1238,28,1268,1277,24,1333,1367,45,1402,1423,28,1439,1460,27,1471,1503,27,1554,1568,21],
[35,51,24,58,76,28,131,143,25,178,184,17,219,240,23,281,291,21,314,332,28,374,399,24,406,420,24,454,468,27,491,503,24,549,563,28,609,639,24,683,696,23,715,729,25,740,777,27,839,851,25,895,925,28,973,996,21,1049,1072,28,1079,1091,24,1155,1178,28,1241,1254,24,1298,1312,24,1360,1379,28,1384,1397,24,1457,1473,23,1476,1490,24,1494,1503,24,1506,1533,32]];

const rows = [r00,r01,r02,r03,r04,r05,r06,r07,r08,r09,r10,r11,r12,r13,r14,r15,r16,r17,r18,r19,r20,r21,r22,r23,r24,r25,r26,r27,r28,r29,r30,r31,r32,r33,r34,r35,r36,r37,r38,r39,r40,r41,r42,r43];
const groups = [0,0,0,0,0,0,0,0,0,0,0,0,0,0,0,0,1,1,0,0,0,1,0,0,0,0,0,0,0,1,0,0,0,0,1,0,2,0,0,0,0,0,0,0];
const groupColors = ["#CC0000", "#990099", "#009999"];
const legendNames = ["Teleostei", "Sauria", "Testudines", "Mammalia", "Metatheria", "Others"];
const legendColors = ["#CC0000", "#00CC00", "#009999", "#0000CC", "#990099", "#000000"];
const legendEnds = [108, 59, 31, 131, 98, 66];
const colorTicks = ["1.5e+02", "8.4e+01", "4.8e+01", "2.7e+01", "1.6e+01"];
const colorTickY = [2217, 2399, 2582, 2764, 2940];
const axisTicks = [0, 500, 1000, 1500, 2000, 2500];

const BAND_SPAN = 950.3;
const x = d3.scaleLinear().domain([0, 2500]).range([190, 1979]);
const band = d3.scaleBand<number>().domain(d3.range(44)).range([5, 3056.4]);
const read = d3.scaleLinear().domain([0, 1568]).range([0, BAND_SPAN]);
const t = d3.scaleLog().domain([16, 150]).range([0, 1]).clamp(true);
const col = (v: number) => d3.interpolateRgb("#cccccc", "#cc0000")(t(v));

export default function App() {
  return (
    <svg width={2243} height={3131} style={{ position: "absolute", left: 0, top: 0, fontFamily: "'Liberation Sans'" }}>
      <defs>
        <linearGradient id="g" x1="0" y1="0" x2="0" y2="1">
          <stop offset="0" stopColor="#cc0000" />
          <stop offset="1" stopColor="#cccccc" />
        </linearGradient>
      </defs>
      {legendNames.map((n, i) => (
        <text key={n} x={legendEnds[i]} y={96 + 44 * i} textAnchor="end" fontSize={40} fontWeight="bold" fill={legendColors[i]}>{n}</text>
      ))}
      <rect x={120} y={2213} width={34} height={729} fill="url(#g)" />
      {colorTicks.map((s, i) => (
        <text key={s} x={108} y={colorTickY[i]} textAnchor="end" dominantBaseline="middle" fontSize={27}>{s}</text>
      ))}
      {groups.map((g, i) => (
        <rect key={i} x={170} y={band(i)} width={16} height={band.step()} fill={groupColors[g]} shapeRendering="crispEdges" />
      ))}
      {rows.map((r, i) => r.flatMap((p, b) => {
        const out = [];
        for (let k = 0; k < p.length; k += 3) {
          const x0 = x(b * BAND_SPAN + read(p[k]));
          const x1 = x(b * BAND_SPAN + read(p[k + 1]));
          out.push(<rect key={`${i}-${b}-${k}`} x={x0} width={x1 - x0} y={band(i)! + band.step() - 56} height={56} fill={col(p[k + 2])} shapeRendering="crispEdges" />);
        }
        return out;
      }))}
      <path d={`M${x(0)},3057H${x(2500)}`} fill="none" stroke="#000" strokeWidth={2} />
      {axisTicks.map((v) => (
        <g key={v}>
          <path d={`M${x(v)},3057V3077`} stroke="#000" strokeWidth={2} />
          <text x={x(v)} y={3126} textAnchor="middle" fontSize={33}>{v}</text>
        </g>
      ))}
    </svg>
  );
}
